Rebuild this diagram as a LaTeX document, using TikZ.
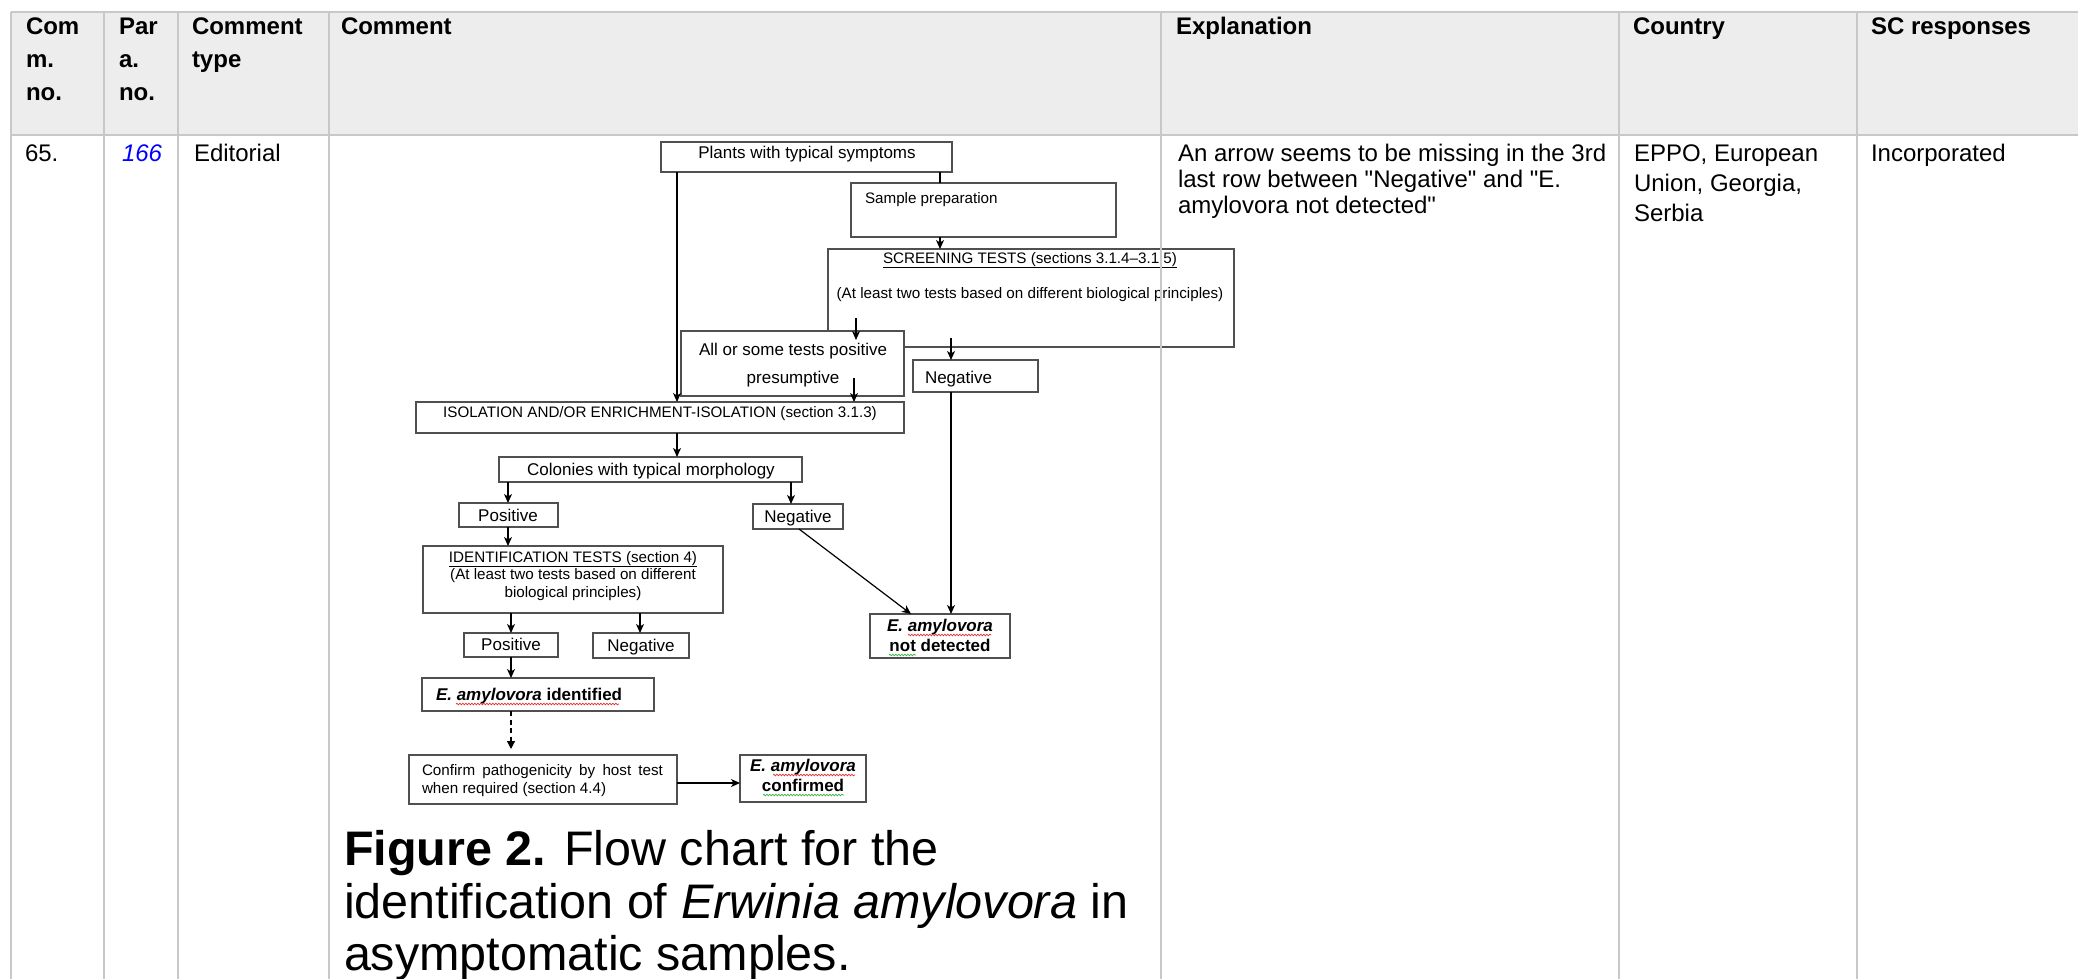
\documentclass[tikz,border=0pt]{standalone}
\usepackage{fontspec}
\setmainfont{Liberation Sans}
\usetikzlibrary{arrows.meta,decorations.pathmorphing}
\definecolor{gridc}{HTML}{C8C8C8}
\definecolor{headc}{HTML}{EDEDED}
\definecolor{boxc}{HTML}{505050}
\definecolor{linkc}{HTML}{0000FF}
\definecolor{spellr}{HTML}{E03030}
\definecolor{spellg}{HTML}{3CB043}
\begin{document}
\begin{tikzpicture}[x=1pt,y=-1pt,
  grid/.style={draw=gridc, line width=2pt},
  fbox/.style={draw=boxc, line width=1.3pt, fill=white, inner sep=0pt, outer sep=0pt, anchor=north west},
  txt/.style={inner sep=0pt, outer sep=0pt, anchor=base west},
  ctxt/.style={inner sep=0pt, outer sep=0pt, anchor=base},
  big/.style={font=\fontsize{17}{20}\selectfont},
  small/.style={font=\fontsize{15.2}{18}\selectfont},
  cell/.style={txt, font=\fontsize{24}{26}\selectfont},
  head/.style={txt, font=\bfseries\fontsize{24}{26}\selectfont},
  captxt/.style={txt, font=\fontsize{48.5}{53}\selectfont},
  arr/.style={draw=black, line width=1.2pt, -{Stealth[length=9pt,width=8pt,inset=2.5pt]}},
  ln/.style={draw=black, line width=1.2pt},
  darr/.style={draw=black, line width=1.2pt, dash pattern=on 5pt off 3.5pt, -{Triangle[length=8pt,width=8pt]}},
  spellred/.style={draw=spellr, line width=0.7pt, decorate, decoration={snake, amplitude=0.8pt, segment length=3pt}},
  spellgreen/.style={draw=spellg, line width=0.7pt, decorate, decoration={snake, amplitude=0.8pt, segment length=3pt}}
]
\useasboundingbox (0,0) rectangle (2078,979);
\fill[white] (0,0) rectangle (2078,979);
\fill[headc] (11,12) rectangle (2078,135);

% header texts
\node[head] (h1a) at (26,35) {Com};
\node[head] (h1b) at (26,68) {m.};
\node[head] (h1c) at (26,101) {no.};
\node[head] (h2a) at (119,35) {Par};
\node[head] (h2b) at (119,68) {a.};
\node[head] (h2c) at (119,101) {no.};
\node[head] (h3a) at (192,35) {Comment};
\node[head] (h3b) at (192,68) {type};
\node[head] (h4) at (341,35) {Comment};
\node[head] (h5) at (1176,35) {Explanation};
\node[head] (h6) at (1633,35) {Country};
\node[head] (h7) at (1871,35) {SC responses};

% body texts
\node[cell] (b1) at (25,161) {65.};
\node[cell, text=linkc] (b2) at (122,161) {\itshape 166};
\node[cell] (b3) at (194,161) {Editorial};
\node[cell] (e1) at (1178,161) {An arrow seems to be missing in the 3rd};
\node[cell] (e2) at (1178,187) {last row between \textquotedbl Negative\textquotedbl{} and \textquotedbl E.};
\node[cell] (e3) at (1178,213) {amylovora not detected\textquotedbl};
\node[cell] (c1) at (1634,161) {EPPO, European};
\node[cell] (c2) at (1634,191) {Union, Georgia,};
\node[cell] (c3) at (1634,221) {Serbia};
\node[cell] (s1) at (1871,161) {Incorporated};

% flow chart boxes
\node[fbox, minimum width=291pt, minimum height=30pt] (plants) at (661,142) {};
\node[fbox, minimum width=265pt, minimum height=54pt] (prep) at (851,183) {};
\node[fbox, minimum width=406pt, minimum height=98pt] (screen) at (828,249) {};
\node[fbox, minimum width=223pt, minimum height=65pt] (allsome) at (681,331) {};
\node[fbox, minimum width=125pt, minimum height=32pt] (neg1) at (913,360) {};
\node[fbox, minimum width=488pt, minimum height=31pt] (isol) at (416,402) {};
\node[fbox, minimum width=303pt, minimum height=25pt] (colonies) at (499,457) {};
\node[fbox, minimum width=99pt, minimum height=24pt] (pos1) at (459,503) {};
\node[fbox, minimum width=90pt, minimum height=25pt] (neg2) at (753,504) {};
\node[fbox, minimum width=300pt, minimum height=67pt] (ident) at (423,546) {};
\node[fbox, minimum width=94pt, minimum height=24pt] (pos2) at (464,633) {};
\node[fbox, minimum width=96pt, minimum height=25pt] (neg3) at (593,633) {};
\node[fbox, minimum width=140pt, minimum height=44pt] (notdet) at (870,614) {};
\node[fbox, minimum width=232pt, minimum height=33pt] (identd) at (422,678) {};
\node[fbox, minimum width=268pt, minimum height=49pt] (confirm) at (409,755) {};
\node[fbox, minimum width=126pt, minimum height=47pt] (confirmed) at (740,755) {};

% flow chart texts
\node[ctxt, big] (tplants) at (807,158) {Plants with typical symptoms};
\node[txt, small] (tprep) at (865,204) {Sample preparation};
\node[ctxt, small] (tscr1) at (1030,263) {\underline{SCREENING TESTS (sections 3.1.4–3.1.5)}};
\node[ctxt, small] (tscr2) at (1030,298) {(At least two tests based on different biological principles)};
\node[ctxt, big] (tall1) at (793,355) {All or some tests positive};
\node[ctxt, big] (tall2) at (793,383) {presumptive};
\node[txt, big] (tneg1) at (925,383) {Negative};
\node[ctxt, small] (tisol) at (660,417) {ISOLATION AND/OR ENRICHMENT-ISOLATION (section 3.1.3)};
\node[ctxt, big] (tcol) at (651,475) {Colonies with typical morphology};
\node[ctxt, big] (tpos1) at (508,521) {Positive};
\node[ctxt, big] (tneg2) at (798,522) {Negative};
\node[ctxt, small] (tid1) at (573,562) {\underline{IDENTIFICATION TESTS (section 4)}};
\node[ctxt, small] (tid2) at (573,579) {(At least two tests based on different};
\node[ctxt, small] (tid3) at (573,597) {biological principles)};
\node[ctxt, big] (tpos2) at (511,650) {Positive};
\node[ctxt, big] (tneg3) at (641,651) {Negative};
\node[ctxt, big] (tnd1) at (940,631) {\bfseries\itshape E. amylovora};
\node[ctxt, big] (tnd2) at (940,651) {\bfseries not detected};
\node[txt, big] (tidd) at (436,700) {\bfseries{\itshape E. amylovora} identified};
\node[txt, small] (tcf1) at (422,775) {\makebox[241pt][s]{Confirm pathogenicity by host test}};
\node[txt, small] (tcf2) at (422,793) {when required (section 4.4)};
\node[ctxt, big] (tcd1) at (803,771) {\bfseries\itshape E. amylovora};
\node[ctxt, big] (tcd2) at (803,791) {\bfseries confirmed};

% spell-check squiggles
\draw[spellred] (908,635) -- (991,635);
\draw[spellgreen] (889,655) -- (916,655);
\draw[spellred] (456,704) -- (619,704);
\draw[spellred] (773,775) -- (855,775);
\draw[spellgreen] (763,795) -- (844,795);

% connector helper coordinates
\coordinate (xA) at (677,0);
\coordinate (xB) at (940,0);
\coordinate (xC) at (508,0);
\coordinate (xD) at (791,0);
\coordinate (xE) at (511,0);
\coordinate (xF) at (640,0);
\coordinate (xG) at (951,0);
\coordinate (yK) at (0,783);
\coordinate (scrA) at (856,318);
\coordinate (allA) at (856,340);
\coordinate (scrB) at (951,338);
\coordinate (allB) at (854,378);
\coordinate (ngA) at (799,529);
\coordinate (ndA) at (911,614);

% connectors
\draw[arr] (plants.south -| xA) -- (isol.north -| xA);
\draw[ln] (plants.south -| xB) -- (prep.north -| xB);
\draw[arr] (prep.south -| xB) -- (screen.north -| xB);
\draw[arr] (scrA) -- (allA);
\draw[arr] (scrB) -- (neg1.north -| scrB);
\draw[arr] (allB) -- (isol.north -| allB);
\draw[arr] (isol.south -| xA) -- (colonies.north -| xA);
\draw[arr] (colonies.south -| xC) -- (pos1.north -| xC);
\draw[arr] (colonies.south -| xD) -- (neg2.north -| xD);
\draw[arr] (pos1.south -| xC) -- (ident.north -| xC);
\draw[arr] (ident.south -| xE) -- (pos2.north -| xE);
\draw[arr] (ident.south -| xF) -- (neg3.north -| xF);
\draw[arr] (ngA) -- (ndA);
\draw[arr] (neg1.south -| xG) -- (notdet.north -| xG);
\draw[arr] (pos2.south -| xE) -- (identd.north -| xE);
\draw[darr, shorten >=6pt] (identd.south -| xE) -- (confirm.north -| xE);
\draw[arr] (confirm.east |- yK) -- (confirmed.west |- yK);

% caption
\node[captxt] (cap1) at (344,865) {\textbf{Figure 2.} Flow chart for the};
\node[captxt] (cap2) at (344,918) {identification of \textit{Erwinia amylovora} in};
\node[captxt] (cap3) at (344,970) {asymptomatic samples.};

% table grid
\draw[grid] (11,12) -- (2078,12);
\draw[grid] (11,135) -- (2078,135);
\foreach \gx in {11,104,178,329,1161,1619,1857} {
  \draw[grid] (\gx,12) -- (\gx,979);
}
\end{tikzpicture}
\end{document}
